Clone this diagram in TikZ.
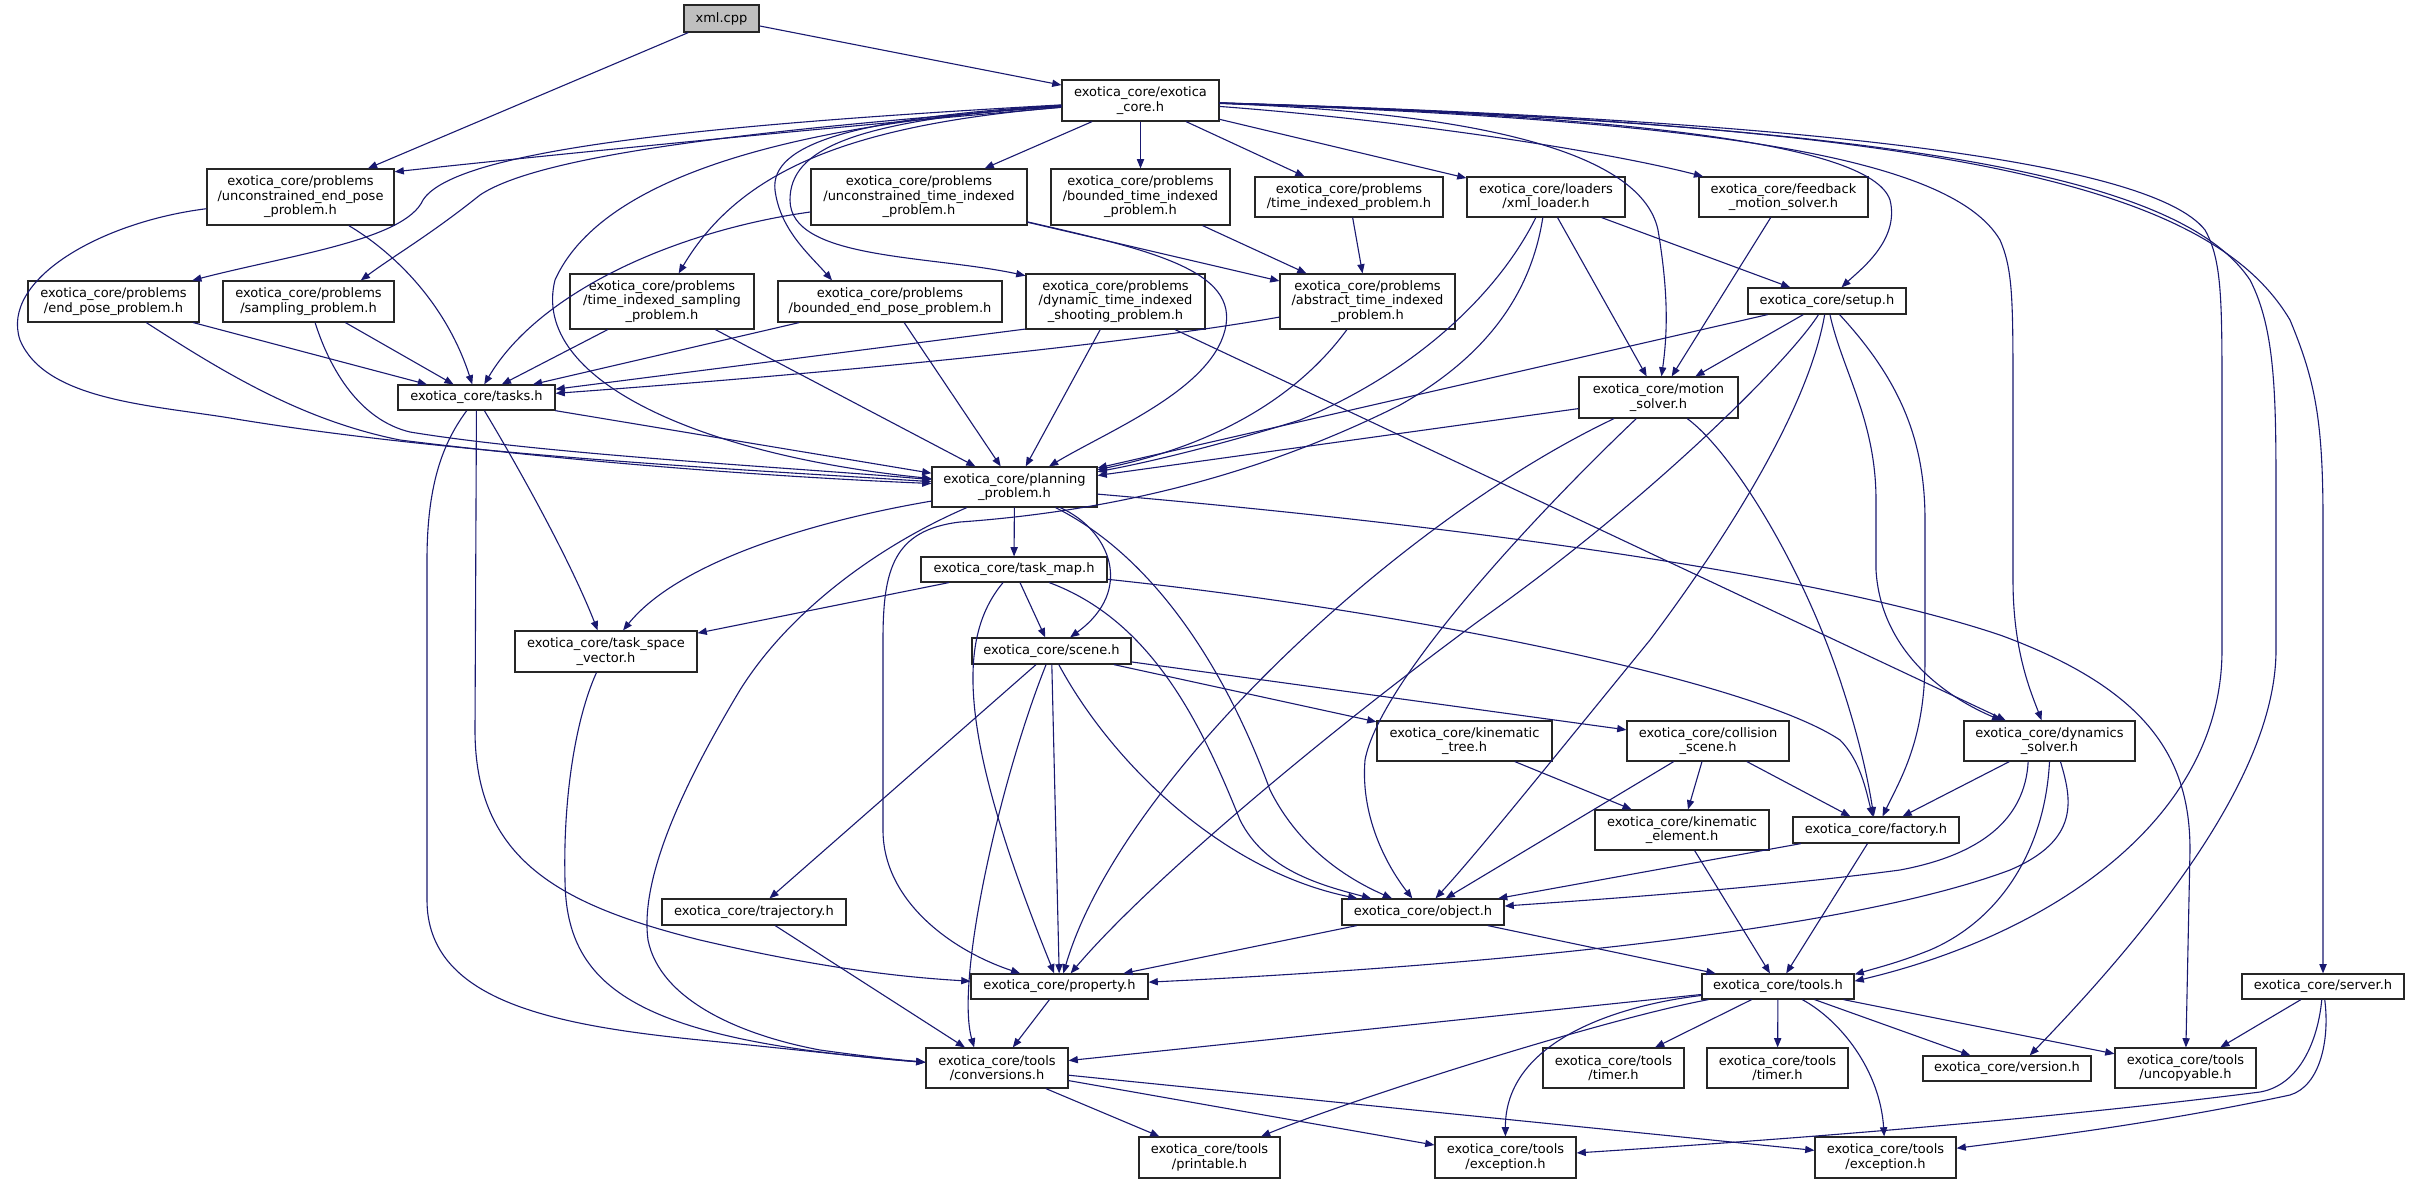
\documentclass[tikz,border=0pt]{standalone}
\usepackage{fontspec}
\setmainfont{DejaVu Sans}
\usetikzlibrary{arrows.meta}
\definecolor{edgeblue}{HTML}{191970}
\definecolor{curfill}{HTML}{BFBFBF}
\begin{document}
\begin{tikzpicture}[x=0.5pt, y=-0.5pt,
  box/.style={draw=black!85, line width=0.6pt, fill=white, inner sep=0pt, align=center,
    font=\fontsize{6.5pt}{7.25pt}\selectfont},
  dep/.style={draw=edgeblue, line width=0.55pt, -{Triangle[length=4.6pt,width=3.6pt]}}]
\fill[white] (0,0) rectangle (2416,1184);
\useasboundingbox (0,0) rectangle (2416,1184);
% ---------------- nodes ----------------
\node[box, fill=curfill, minimum width=37.5pt, minimum height=13.5pt] (xml) at (721.5,18.5) {xml.cpp};
\node[box, minimum width=78.5pt, minimum height=20.5pt] (core) at (1140.5,100.5) {exotica\_core/exotica\\\_core.h};
\node[box, minimum width=93.5pt, minimum height=28pt] (uep) at (300.5,197) {exotica\_core/problems\\/unconstrained\_end\_pose\\\_problem.h};
\node[box, minimum width=108pt, minimum height=28pt] (uti) at (919,197) {exotica\_core/problems\\/unconstrained\_time\_indexed\\\_problem.h};
\node[box, minimum width=89.5pt, minimum height=28pt] (bti) at (1140.5,197) {exotica\_core/problems\\/bounded\_time\_indexed\\\_problem.h};
\node[box, minimum width=94pt, minimum height=20pt] (tip) at (1349,197) {exotica\_core/problems\\/time\_indexed\_problem.h};
\node[box, minimum width=79pt, minimum height=20pt] (xmll) at (1546,197) {exotica\_core/loaders\\/xml\_loader.h};
\node[box, minimum width=84.5pt, minimum height=20pt] (fms) at (1783.5,197) {exotica\_core/feedback\\\_motion\_solver.h};
\node[box, minimum width=85.5pt, minimum height=20.5pt] (epp) at (113.5,301.5) {exotica\_core/problems\\/end\_pose\_problem.h};
\node[box, minimum width=85.5pt, minimum height=20.5pt] (sp) at (308.5,301.5) {exotica\_core/problems\\/sampling\_problem.h};
\node[box, minimum width=92pt, minimum height=27.5pt] (tisp) at (662,301.5) {exotica\_core/problems\\/time\_indexed\_sampling\\\_problem.h};
\node[box, minimum width=112pt, minimum height=20.5pt] (bep) at (890,301.5) {exotica\_core/problems\\/bounded\_end\_pose\_problem.h};
\node[box, minimum width=89.5pt, minimum height=27.5pt] (dtis) at (1115.5,301.5) {exotica\_core/problems\\/dynamic\_time\_indexed\\\_shooting\_problem.h};
\node[box, minimum width=87.5pt, minimum height=27.5pt] (ati) at (1367.5,301.5) {exotica\_core/problems\\/abstract\_time\_indexed\\\_problem.h};
\node[box, minimum width=79pt, minimum height=13pt] (setup) at (1827,301) {exotica\_core/setup.h};
\node[box, minimum width=78.5pt, minimum height=12.5pt] (tasks) at (476.5,397.5) {exotica\_core/tasks.h};
\node[box, minimum width=79.5pt, minimum height=20.5pt] (ms) at (1658.5,397.5) {exotica\_core/motion\\\_solver.h};
\node[box, minimum width=82.5pt, minimum height=20pt] (pp) at (1014.5,487) {exotica\_core/planning\\\_problem.h};
\node[box, minimum width=93pt, minimum height=12.5pt] (tm) at (1014,569.5) {exotica\_core/task\_map.h};
\node[box, minimum width=91pt, minimum height=20.5pt] (tsv) at (606,651.5) {exotica\_core/task\_space\\\_vector.h};
\node[box, minimum width=79.5pt, minimum height=13pt] (scene) at (1051.5,651) {exotica\_core/scene.h};
\node[box, minimum width=87.5pt, minimum height=20pt] (kt) at (1464.5,741) {exotica\_core/kinematic\\\_tree.h};
\node[box, minimum width=81pt, minimum height=20pt] (cs) at (1708,741) {exotica\_core/collision\\\_scene.h};
\node[box, minimum width=85.5pt, minimum height=20pt] (ds) at (2049.5,741) {exotica\_core/dynamics\\\_solver.h};
\node[box, minimum width=87pt, minimum height=20pt] (ke) at (1682,830) {exotica\_core/kinematic\\\_element.h};
\node[box, minimum width=83pt, minimum height=13pt] (fac) at (1876,830) {exotica\_core/factory.h};
\node[box, minimum width=92pt, minimum height=13pt] (traj) at (754,912) {exotica\_core/trajectory.h};
\node[box, minimum width=81pt, minimum height=13pt] (obj) at (1423,912) {exotica\_core/object.h};
\node[box, minimum width=88.5pt, minimum height=12.5pt] (prop) at (1059.5,986.5) {exotica\_core/property.h};
\node[box, minimum width=76pt, minimum height=12.5pt] (tools) at (1778,986.5) {exotica\_core/tools.h};
\node[box, minimum width=81pt, minimum height=12.5pt] (server) at (2323,986.5) {exotica\_core/server.h};
\node[box, minimum width=71pt, minimum height=20pt] (conv) at (997,1068) {exotica\_core/tools\\/conversions.h};
\node[box, minimum width=70.5pt, minimum height=20pt] (tim1) at (1613.5,1068) {exotica\_core/tools\\/timer.h};
\node[box, minimum width=70.5pt, minimum height=20pt] (tim2) at (1777.5,1068) {exotica\_core/tools\\/timer.h};
\node[box, minimum width=84pt, minimum height=12.5pt] (ver) at (2007,1068.5) {exotica\_core/version.h};
\node[box, minimum width=70.5pt, minimum height=20pt] (unc) at (2185.5,1068) {exotica\_core/tools\\/uncopyable.h};
\node[box, minimum width=70.5pt, minimum height=20.5pt] (pr) at (1209.5,1157.5) {exotica\_core/tools\\/printable.h};
\node[box, minimum width=70.5pt, minimum height=20.5pt] (ex1) at (1505.5,1157.5) {exotica\_core/tools\\/exception.h};
\node[box, minimum width=70.5pt, minimum height=20.5pt] (ex2) at (1885.5,1157.5) {exotica\_core/tools\\/exception.h};
% ---------------- edges ----------------
% xml.cpp
\draw[dep] (xml) -- (core);
\draw[dep] (xml) -- (uep);
% exotica_core.h
\draw[dep] (core) .. controls (800,130) and (550,155) .. (uep.15);
\draw[dep] (core) .. controls (700,125) and (455,150) .. (423,200) .. controls (405,240) and (290,255) .. (epp.15);
\draw[dep] (core) .. controls (750,130) and (540,155) .. (480,195) .. controls (430,235) and (395,255) .. (sp.22);
\draw[dep] (core) .. controls (850,125) and (740,170) .. (tisp);
\draw[dep] (core) .. controls (850,118) and (770,145) .. (775,190) .. controls (780,230) and (810,255) .. (bep.160);
\draw[dep] (core) .. controls (850,120) and (790,150) .. (790,200) .. controls (790,260) and (930,255) .. (dtis.164);
\draw[dep] (core) .. controls (780,125) and (600,180) .. (555,280) .. controls (530,380) and (700,455) .. (pp);
\draw[dep] (core) -- (uti);
\draw[dep] (core) -- (bti);
\draw[dep] (core) -- (tip);
\draw[dep] (core) -- (xmll);
\draw[dep] (core) .. controls (1400,120) and (1600,150) .. (fms);
\draw[dep] (core) .. controls (1450,112) and (1640,145) .. (1658,230) .. controls (1668,290) and (1668,330) .. (ms);
\draw[dep] (core) .. controls (1600,115) and (1870,140) .. (1890,200) .. controls (1900,240) and (1860,270) .. (setup);
\draw[dep] (core) .. controls (1700,120) and (1950,155) .. (2000,240) .. controls (2013,270) and (2013,300) .. (2013,400) -- (2013,580) .. controls (2013,650) and (2030,690) .. (ds);
\draw[dep] (core) .. controls (1800,120) and (2150,160) .. (2205,230) .. controls (2222,260) and (2222,300) .. (2222,400) -- (2222,650) .. controls (2222,820) and (2050,935) .. (tools.4);
\draw[dep] (core) .. controls (1900,125) and (2180,175) .. (2250,280) .. controls (2276,330) and (2276,400) .. (2276,500) -- (2276,650) .. controls (2276,760) and (2180,900) .. (ver.30);
\draw[dep] (core) .. controls (1950,125) and (2210,185) .. (2290,320) .. controls (2315,380) and (2323,420) .. (2323,520) -- (server);
% unconstrained_end_pose
\draw[dep] (uep) .. controls (390,250) and (445,300) .. (tasks);
\draw[dep] (uep) .. controls (100,222) and (0,280) .. (20,340) .. controls (45,400) and (150,405) .. (230,418) .. controls (450,455) and (750,470) .. (pp);
% end_pose / sampling
\draw[dep] (epp) -- (tasks);
\draw[dep] (epp) .. controls (220,370) and (300,420) .. (400,440) .. controls (600,465) and (800,478) .. (pp);
\draw[dep] (sp) -- (tasks);
\draw[dep] (sp) .. controls (330,370) and (360,420) .. (410,432) .. controls (550,455) and (800,468) .. (pp);
% tasks
\draw[dep] (tasks) -- (pp);
\draw[dep] (tasks) .. controls (520,470) and (570,560) .. (tsv);
\draw[dep] (tasks) -- (475,730) .. controls (475,860) and (560,905) .. (700,940) .. controls (820,968) and (900,977) .. (prop);
\draw[dep] (tasks) .. controls (445,440) and (427,480) .. (427,560) -- (427,900) .. controls (427,1000) and (550,1025) .. (700,1040) .. controls (800,1050) and (870,1058) .. (conv);
% time_indexed_sampling
\draw[dep] (tisp) -- (tasks);
\draw[dep] (tisp) -- (pp);
% unconstrained_time_indexed
\draw[dep] (uti) .. controls (680,230) and (540,290) .. (tasks);
\draw[dep] (uti) -- (ati);
\draw[dep] (uti) .. controls (1150,250) and (1240,270) .. (1225,330) .. controls (1210,390) and (1110,430) .. (pp);
% dynamic_time_indexed_shooting
\draw[dep] (dtis) -- (pp);
\draw[dep] (dtis.197) -- (tasks.6);
\draw[dep] (dtis) -- (ds);
% bounded_end_pose
\draw[dep] (bep) -- (tasks);
\draw[dep] (bep) -- (pp);
% bounded_time_indexed, time_indexed
\draw[dep] (bti) -- (ati);
\draw[dep] (tip) -- (ati);
% abstract_time_indexed
\draw[dep] (ati) .. controls (1150,340) and (900,368) .. (tasks.3);
\draw[dep] (ati) .. controls (1310,380) and (1240,440) .. (pp);
% xml_loader
\draw[dep] (xmll) -- (setup);
\draw[dep] (xmll) -- (ms);
\draw[dep] (xmll) .. controls (1500,290) and (1420,370) .. (1300,420) .. controls (1220,445) and (1150,462) .. (pp);
\draw[dep] (xmll) .. controls (1530,300) and (1480,360) .. (1400,405) .. controls (1250,480) and (1100,512) .. (960,522) .. controls (893,530) and (883,570) .. (883,640) -- (883,830) .. controls (883,900) and (950,950) .. (prop);
% feedback
\draw[dep] (fms) -- (ms);
% setup
\draw[dep] (setup) -- (pp);
\draw[dep] (setup) -- (ms);
\draw[dep] (setup) .. controls (1790,360) and (1650,500) .. (1480,620) .. controls (1330,730) and (1150,880) .. (prop);
\draw[dep] (setup) .. controls (1810,400) and (1740,520) .. (1650,640) .. controls (1560,750) and (1480,850) .. (obj);
\draw[dep] (setup) .. controls (1900,380) and (1925,440) .. (1925,520) -- (1925,660) .. controls (1925,740) and (1900,780) .. (fac);
\draw[dep] (setup) .. controls (1842,370) and (1876,420) .. (1876,500) -- (1876,570) .. controls (1880,640) and (1930,690) .. (ds);
% motion_solver
\draw[dep] (ms) -- (pp);
\draw[dep] (ms) .. controls (1400,520) and (1120,780) .. (prop);
\draw[dep] (ms) .. controls (1540,510) and (1380,680) .. (1365,760) .. controls (1360,820) and (1390,870) .. (obj);
\draw[dep] (ms) .. controls (1730,450) and (1800,560) .. (1840,680) .. controls (1860,740) and (1868,780) .. (fac);
% planning_problem
\draw[dep] (pp) -- (tm);
\draw[dep] (pp) .. controls (1110,530) and (1135,590) .. (scene);
\draw[dep] (pp) .. controls (820,520) and (680,560) .. (tsv);
\draw[dep] (pp) .. controls (880,545) and (790,610) .. (740,690) .. controls (680,790) and (640,880) .. (648,940) .. controls (660,1000) and (740,1035) .. (820,1050) .. controls (870,1057) and (900,1060) .. (conv);
\draw[dep] (pp) .. controls (1160,560) and (1230,680) .. (1270,790) .. controls (1300,850) and (1350,880) .. (obj);
\draw[dep] (pp) .. controls (1400,520) and (1800,568) .. (2000,635) .. controls (2150,690) and (2190,760) .. (2190,850) -- (unc);
% task_map
\draw[dep] (tm) -- (tsv);
\draw[dep] (tm) -- (scene);
\draw[dep] (tm) .. controls (955,640) and (960,740) .. (prop);
\draw[dep] (tm) .. controls (1150,620) and (1200,720) .. (1240,820) .. controls (1265,870) and (1320,885) .. (obj);
\draw[dep] (tm) .. controls (1400,610) and (1750,680) .. (1840,740) .. controls (1860,760) and (1866,790) .. (fac);
% task_space_vector
\draw[dep] (tsv) .. controls (575,720) and (563,800) .. (565,880) .. controls (566,990) and (640,1040) .. (conv);
% scene
\draw[dep] (scene) -- (kt);
\draw[dep] (scene) -- (cs);
\draw[dep] (scene) -- (traj);
\draw[dep] (scene) .. controls (1000,780) and (955,980) .. (conv.138);
\draw[dep] (scene) -- (prop);
\draw[dep] (scene) .. controls (1110,760) and (1220,870) .. (obj);
% kinematic_tree, collision_scene
\draw[dep] (kt) -- (ke);
\draw[dep] (cs) -- (ke);
\draw[dep] (cs) -- (fac);
\draw[dep] (cs) -- (obj);
% dynamics_solver
\draw[dep] (ds) -- (fac);
\draw[dep] (ds.224) .. controls (2025,820) and (1980,855) .. (1900,870) .. controls (1750,890) and (1560,902) .. (obj);
\draw[dep] (ds.-62) .. controls (2072,800) and (2080,840) .. (2010,870) .. controls (1850,930) and (1500,965) .. (prop);
\draw[dep] (ds.south) .. controls (2045,850) and (2000,920) .. (1930,950) .. controls (1900,962) and (1880,967) .. (tools.9);
% factory, kinematic_element, trajectory
\draw[dep] (fac) -- (obj);
\draw[dep] (fac) -- (tools);
\draw[dep] (ke) -- (tools);
\draw[dep] (traj) -- (conv);
% object, property
\draw[dep] (obj) -- (prop);
\draw[dep] (obj) -- (tools);
\draw[dep] (prop) -- (conv);
% tools
\draw[dep] (tools) -- (conv);
\draw[dep] (tools) -- (tim1);
\draw[dep] (tools) -- (tim2);
\draw[dep] (tools) -- (ver);
\draw[dep] (tools) -- (unc);
\draw[dep] (tools) .. controls (1840,1020) and (1880,1070) .. (ex2);
\draw[dep] (tools) .. controls (1620,1005) and (1505,1040) .. (ex1);
\draw[dep] (tools) .. controls (1600,1020) and (1350,1100) .. (pr);
% conversions
\draw[dep] (conv) -- (pr);
\draw[dep] (conv) -- (ex1);
\draw[dep] (conv) -- (ex2);
% server
\draw[dep] (server) -- (unc);
\draw[dep] (server) .. controls (2318,1040) and (2300,1085) .. (2260,1092) .. controls (2000,1125) and (1700,1145) .. (ex1);
\draw[dep] (server) .. controls (2330,1040) and (2320,1086) .. (2290,1095) .. controls (2150,1125) and (2020,1140) .. (ex2);
\end{tikzpicture}
\end{document}
